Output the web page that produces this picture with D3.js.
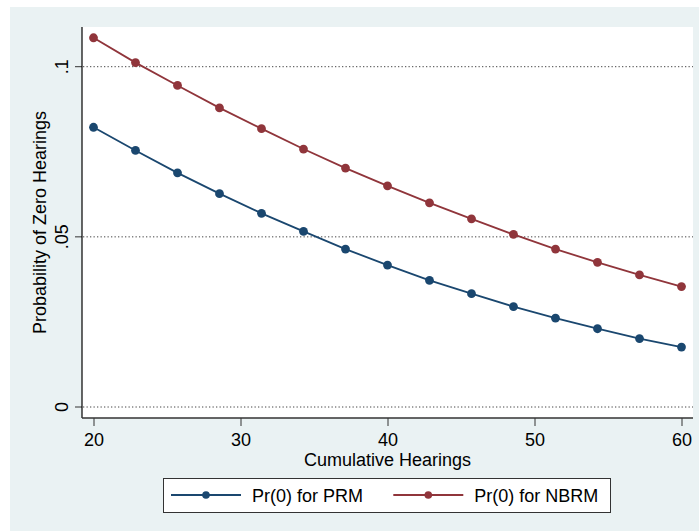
<!DOCTYPE html>
<html><head><meta charset="utf-8">
<script src="https://cdn.jsdelivr.net/npm/d3@7"></script>
<style>html,body{margin:0;padding:0;background:#fff;}svg{display:block;}</style>
</head><body>
<script>
const hearings = [20, 22.857, 25.714, 28.571, 31.429, 34.286, 37.143, 40, 42.857, 45.714, 48.571, 51.429, 54.286, 57.143, 60];
const prm  = [0.0822, 0.0754, 0.0688, 0.0627, 0.0569, 0.0516, 0.0464, 0.0417, 0.0372, 0.0333, 0.0295, 0.0261, 0.0230, 0.0201, 0.0176];
const nbrm = [0.1085, 0.1012, 0.0945, 0.0879, 0.0818, 0.0758, 0.0702, 0.0650, 0.0600, 0.0553, 0.0507, 0.0464, 0.0425, 0.0388, 0.0354];
const xTicks = [20, 30, 40, 50, 60];
const yTicks = [0, 0.05, 0.1];
const yTickLabels = ["0", ".05", ".1"];
const seriesNames = ["Pr(0) for PRM", "Pr(0) for NBRM"];
const seriesColors = ["#1a476f", "#90353b"];

const W = 699, H = 531;
const font = "Liberation Sans, Arial, sans-serif";
const svg = d3.select("body").append("svg").attr("width", W).attr("height", H);

svg.append("rect").attr("x", 10).attr("y", 7).attr("width", W - 10).attr("height", H - 7).attr("fill", "#eaf2f3");

const plot = {left: 82, top: 27, right: 693, bottom: 418};
svg.append("rect").attr("x", plot.left).attr("y", plot.top)
  .attr("width", plot.right - plot.left).attr("height", plot.bottom - plot.top).attr("fill", "#fff");

const x = d3.scaleLinear().domain([20, 60]).range([93.5, 681.5]);
const y = d3.scaleLinear().domain([0, 0.1]).range([407, 66.7]);

// gridlines
svg.append("g").selectAll("line").data(yTicks).join("line")
  .attr("x1", plot.left + 1).attr("x2", plot.right)
  .attr("y1", d => y(d)).attr("y2", d => y(d))
  .attr("stroke", "#444").attr("stroke-width", 1).attr("stroke-dasharray", "1.3,2.2");

// axes
const yAxis = d3.axisLeft(y).tickValues(yTicks).tickFormat((d, i) => yTickLabels[i]).tickSize(7).tickPadding(4);
const gy = svg.append("g").attr("transform", `translate(${plot.left},0)`).call(yAxis);
gy.select(".domain").remove();
gy.selectAll(".tick line").attr("stroke", "#333");
gy.selectAll(".tick text").attr("font-family", font).attr("font-size", 18).attr("fill", "#000")
  .attr("text-anchor", "middle").attr("dy", null)
  .attr("transform", "rotate(-90)")
  .attr("x", d => -y(d)).attr("y", -14);
gy.selectAll(".tick").attr("transform", null);
gy.selectAll(".tick line").attr("y1", d => y(d)).attr("y2", d => y(d));

svg.append("line").attr("x1", plot.left).attr("x2", plot.left).attr("y1", plot.top).attr("y2", plot.bottom)
  .attr("stroke", "#000").attr("stroke-width", 1.2);

const xAxis = d3.axisBottom(x).tickValues(xTicks).tickFormat(d3.format("d")).tickSize(8).tickPadding(3);
const gx = svg.append("g").attr("transform", `translate(0,${plot.bottom})`).call(xAxis);
gx.select(".domain").remove();
gx.selectAll(".tick line").attr("stroke", "#333");
gx.selectAll(".tick text").attr("font-family", font).attr("font-size", 18).attr("fill", "#000")
  .attr("dy", null).attr("y", 28);
svg.append("line").attr("x1", plot.left).attr("x2", plot.right).attr("y1", plot.bottom).attr("y2", plot.bottom)
  .attr("stroke", "#333").attr("stroke-width", 1.6);

// axis titles
svg.append("text").attr("x", (plot.left + plot.right) / 2).attr("y", 466).attr("text-anchor", "middle")
  .attr("font-family", font).attr("font-size", 18).text("Cumulative Hearings");
svg.append("text").attr("transform", `translate(46,${(plot.top + plot.bottom) / 2}) rotate(-90)`)
  .attr("text-anchor", "middle").attr("font-family", font).attr("font-size", 18).text("Probability of Zero Hearings");

// series
const series = [prm, nbrm];
const line = d3.line().x((d, i) => x(hearings[i])).y(d => y(d));
series.forEach((s, k) => {
  svg.append("path").datum(s).attr("d", line).attr("fill", "none")
    .attr("stroke", seriesColors[k]).attr("stroke-width", 1.8);
  svg.append("g").selectAll("circle").data(s).join("circle")
    .attr("cx", (d, i) => x(hearings[i])).attr("cy", d => y(d)).attr("r", 4.4)
    .attr("fill", seriesColors[k]);
});

// legend
const lg = svg.append("g");
lg.append("rect").attr("x", 163.5).attr("y", 478.5).attr("width", 447).attr("height", 34)
  .attr("fill", "#fff").attr("stroke", "#333").attr("stroke-width", 1);
const legendX = [171, 393.3];
seriesNames.forEach((n, k) => {
  const lx = legendX[k];
  lg.append("line").attr("x1", lx).attr("x2", lx + 70).attr("y1", 495).attr("y2", 495)
    .attr("stroke", seriesColors[k]).attr("stroke-width", 1.8);
  lg.append("circle").attr("cx", lx + 35).attr("cy", 495).attr("r", 3.8).attr("fill", seriesColors[k]);
  lg.append("text").attr("x", lx + 81).attr("y", 502).attr("font-family", font).attr("font-size", 18).text(n);
});
</script>
</body></html>
